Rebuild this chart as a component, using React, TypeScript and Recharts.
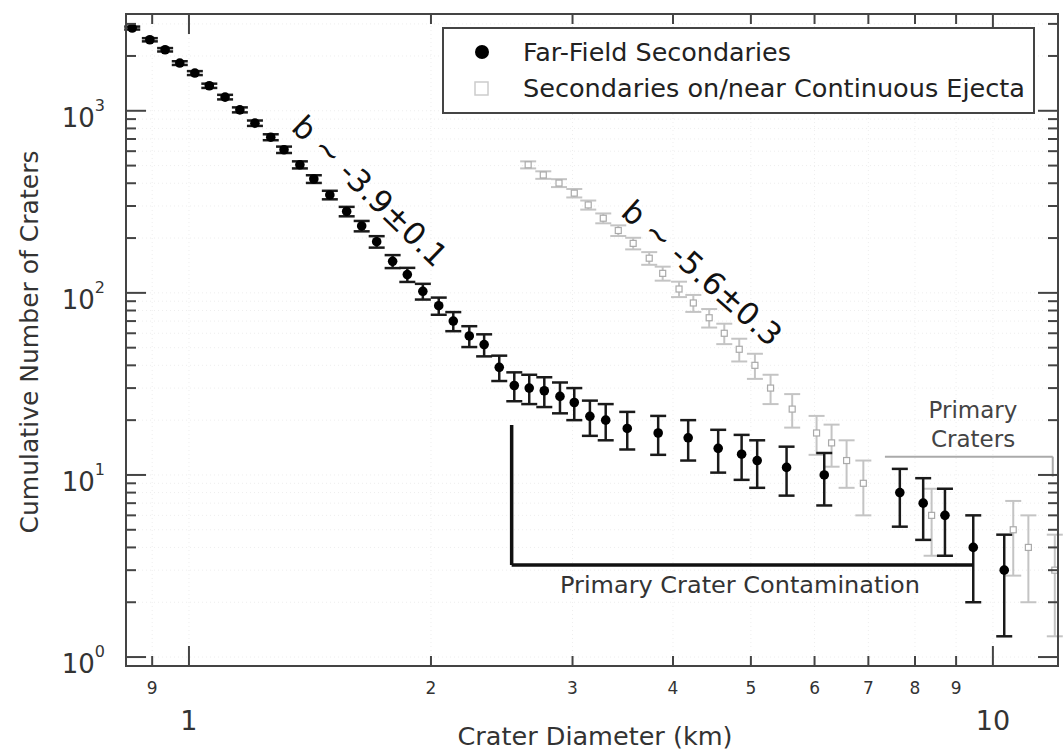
import React from "react";
import {
  ScatterChart,
  Scatter,
  XAxis,
  YAxis,
  ErrorBar,
  CartesianGrid,
  ReferenceLine,
} from "recharts";

// Far-field secondaries (black)
const farDiam = [
  0.85, 0.894, 0.934, 0.974, 1.017, 1.06, 1.109, 1.157, 1.208, 1.264, 1.313, 1.374,
  1.43, 1.497, 1.571, 1.64, 1.712, 1.792, 1.869, 1.954, 2.045, 2.132, 2.232, 2.329,
  2.432, 2.539, 2.65, 2.767, 2.894, 3.015, 3.153, 3.299, 3.509, 3.834, 4.178, 4.553,
  4.869, 5.091, 5.538, 6.169, 7.66, 8.19, 8.717, 9.453, 10.33,
];
const farCount = [
  2846, 2455, 2163, 1828, 1611, 1372, 1189, 1012, 855, 716, 611, 505, 422, 345, 280,
  233, 191, 149, 126, 102, 85, 70, 58, 52, 39, 31, 30, 29, 27, 25, 21, 20, 18, 17, 16,
  14, 13, 12, 11, 10, 8, 7, 6, 4, 3,
];
const farErr = [
  53.3, 49.5, 46.5, 42.8, 40.1, 37.0, 34.5, 31.8, 29.2, 26.8, 24.7, 22.5, 20.5, 18.6,
  16.7, 15.3, 13.8, 12.2, 11.2, 10.1, 9.2, 8.4, 7.6, 7.2, 6.2, 5.6, 5.5, 5.4, 5.2, 5.0,
  4.6, 4.5, 4.2, 4.1, 4.0, 3.7, 3.6, 3.5, 3.3, 3.2, 2.8, 2.6, 2.4, 2.0, 1.7,
];

// Secondaries on/near continuous ejecta (grey)
const nearDiam = [
  2.642, 2.759, 2.886, 3.015, 3.138, 3.276, 3.42, 3.569, 3.737, 3.884, 4.07, 4.24,
  4.437, 4.633, 4.836, 5.058, 5.29, 5.628, 6.035, 6.3, 6.577, 6.9, 8.39, 10.6, 11.07,
  11.94,
];
const nearCount = [
  505, 444, 401, 353, 304, 257, 220, 187, 155, 128, 105, 88, 73, 60, 49, 40, 30, 23, 17,
  15, 12, 9, 6, 5, 4, 3,
];
const nearErr = [
  22.5, 21.1, 20.0, 18.8, 17.4, 16.0, 14.8, 13.7, 12.4, 11.3, 10.2, 9.4, 8.5, 7.7, 7.0,
  6.3, 5.5, 4.8, 4.1, 3.9, 3.5, 3.0, 2.4, 2.2, 2.0, 1.7,
];

const xTicks = [0.9, 1, 2, 3, 4, 5, 6, 7, 8, 9, 10];
const yTicks = [
  1, 2, 3, 4, 5, 6, 7, 8, 9, 10, 20, 30, 40, 50, 60, 70, 80, 90, 100, 200, 300, 400,
  500, 600, 700, 800, 900, 1000, 2000, 3000,
];
const yMajor = [1, 10, 100, 1000];

const farData = farDiam.map((d, i) => ({ d, n: farCount[i], err: farErr[i] }));
const nearData = nearDiam.map((d, i) => ({ d, n: nearCount[i], err: nearErr[i] }));

const W = 1064;
const H = 750;
const PLOT_LEFT = 126;
const PLOT_RIGHT = 1058;
const PLOT_TOP = 14;
const PLOT_BOTTOM = 666;
const AXIS = "#444";
const FONT = "'DejaVu Sans', sans-serif";

function XTick(props: any) {
  const { x, payload } = props;
  const v = payload.value;
  const major = v === 1 || v === 10;
  const len = major ? 20 : 10;
  return (
    <g>
      <line x1={x} x2={x} y1={PLOT_BOTTOM} y2={PLOT_BOTTOM - len} stroke={AXIS} strokeWidth={2} />
      <line x1={x} x2={x} y1={PLOT_TOP} y2={PLOT_TOP + len} stroke={AXIS} strokeWidth={2} />
      {major ? (
        <text x={x} y={730} textAnchor="middle" fontSize={27} fill="#333" fontFamily={FONT}>
          {v}
        </text>
      ) : (
        <text x={x} y={694} textAnchor="middle" fontSize={17} fill="#333" fontFamily={FONT}>
          {v < 1 ? Math.round(v * 10) : v}
        </text>
      )}
    </g>
  );
}

function YTick(props: any) {
  const { y, payload } = props;
  const v = payload.value;
  const major = yMajor.includes(v);
  const len = major ? 20 : 10;
  return (
    <g>
      <line x1={PLOT_LEFT} x2={PLOT_LEFT + len} y1={y} y2={y} stroke={AXIS} strokeWidth={2} />
      <line x1={PLOT_RIGHT} x2={PLOT_RIGHT - len} y1={y} y2={y} stroke={AXIS} strokeWidth={2} />
      {major && (
        <text x={105} y={y + 16} textAnchor="end" fontSize={26} fill="#333" fontFamily={FONT}>
          10
          <tspan dy={-16} fontSize={16}>
            {Math.round(Math.log10(v))}
          </tspan>
        </text>
      )}
    </g>
  );
}

const BlackDot = (p: any) => <circle cx={p.cx} cy={p.cy} r={4.8} fill="#000" />;
const GreySquare = (p: any) => (
  <rect x={p.cx - 3} y={p.cy - 3} width={6} height={6} fill="#fff" stroke="#aaa" strokeWidth={1.2} />
);

export default function App() {
  return (
    <div style={{ position: "absolute", left: 0, top: 0, width: W, height: H, background: "#fff" }}>
      <ScatterChart width={W} height={H} margin={{ top: PLOT_TOP, right: W - PLOT_RIGHT, left: 0, bottom: 0 }}>
        <CartesianGrid stroke="#eeeeee" strokeDasharray="1 3" />
        <XAxis
          type="number"
          dataKey="d"
          scale="log"
          domain={[0.835, 12.05]}
          allowDataOverflow
          ticks={xTicks}
          interval={0}
          tick={<XTick />}
          tickLine={false}
          axisLine={false}
          height={H - PLOT_BOTTOM}
        />
        <YAxis
          type="number"
          dataKey="n"
          scale="log"
          domain={[0.893, 3400]}
          allowDataOverflow
          ticks={yTicks}
          interval={0}
          tick={<YTick />}
          tickLine={false}
          axisLine={false}
          width={PLOT_LEFT}
        />
        <ReferenceLine
          segment={[{ x: 7.34, y: 12.6 }, { x: 11.87, y: 12.6 }]}
          stroke="#aaa"
          strokeWidth={2}
        />
        <ReferenceLine
          segment={[{ x: 11.87, y: 12.6 }, { x: 11.87, y: 9.8 }]}
          stroke="#aaa"
          strokeWidth={2}
        />
        <Scatter data={nearData} shape={<GreySquare />} isAnimationActive={false}>
          <ErrorBar dataKey="err" direction="y" width={8} stroke="#c4c4c4" strokeWidth={2} isAnimationActive={false} />
        </Scatter>
        <Scatter data={farData} shape={<BlackDot />} isAnimationActive={false}>
          <ErrorBar dataKey="err" direction="y" width={8} stroke="#1a1a1a" strokeWidth={2.5} isAnimationActive={false} />
        </Scatter>
        <ReferenceLine
          segment={[{ x: 2.52, y: 18.8 }, { x: 2.52, y: 3.2 }]}
          stroke="#111"
          strokeWidth={3.5}
        />
        <ReferenceLine
          segment={[{ x: 2.52, y: 3.2 }, { x: 9.45, y: 3.2 }]}
          stroke="#111"
          strokeWidth={3.5}
        />
      </ScatterChart>

      <svg
        width={W}
        height={H}
        style={{ position: "absolute", left: 0, top: 0, pointerEvents: "none" }}
        fontFamily={FONT}
      >
        <rect
          x={PLOT_LEFT}
          y={PLOT_TOP}
          width={PLOT_RIGHT - PLOT_LEFT}
          height={PLOT_BOTTOM - PLOT_TOP}
          fill="none"
          stroke={AXIS}
          strokeWidth={2}
        />
        {/* legend */}
        <rect x={443} y={28} width={591} height={85} fill="#fff" stroke={AXIS} strokeWidth={2} />
        <circle cx={482} cy={52} r={7} fill="#000" />
        <text x={523} y={61} fontSize={24} fill="#222" textLength={268} lengthAdjust="spacingAndGlyphs">
          Far-Field Secondaries
        </text>
        <rect x={475} y={82} width={13} height={13} fill="#fff" stroke="#ccc" strokeWidth={1.5} />
        <text x={523} y={97} fontSize={24} fill="#222" textLength={502} lengthAdjust="spacingAndGlyphs">
          Secondaries on/near Continuous Ejecta
        </text>

        {/* slope labels */}
        <text
          transform="translate(370,191) rotate(44)"
          textAnchor="middle"
          dominantBaseline="central"
          fontSize={31}
          fill="#111"
        >
          b ~ -3.9±0.1
        </text>
        <text
          transform="translate(702,273) rotate(41.5)"
          textAnchor="middle"
          dominantBaseline="central"
          fontSize={31}
          fill="#111"
        >
          b ~ -5.6±0.3
        </text>

        <text x={560} y={593} fontSize={23} fill="#333" textLength={360} lengthAdjust="spacingAndGlyphs">
          Primary Crater Contamination
        </text>
        <text x={973} y={418} textAnchor="middle" fontSize={23} fill="#444">
          Primary
        </text>
        <text x={973} y={447} textAnchor="middle" fontSize={23} fill="#444">
          Craters
        </text>

        {/* axis titles */}
        <text x={595} y={745} textAnchor="middle" fontSize={24} fill="#333" textLength={275} lengthAdjust="spacingAndGlyphs">
          Crater Diameter (km)
        </text>
        <text
          transform="translate(38,342) rotate(-90)"
          textAnchor="middle"
          fontSize={24}
          fill="#333"
          textLength={383}
          lengthAdjust="spacingAndGlyphs"
        >
          Cumulative Number of Craters
        </text>
      </svg>
    </div>
  );
}
